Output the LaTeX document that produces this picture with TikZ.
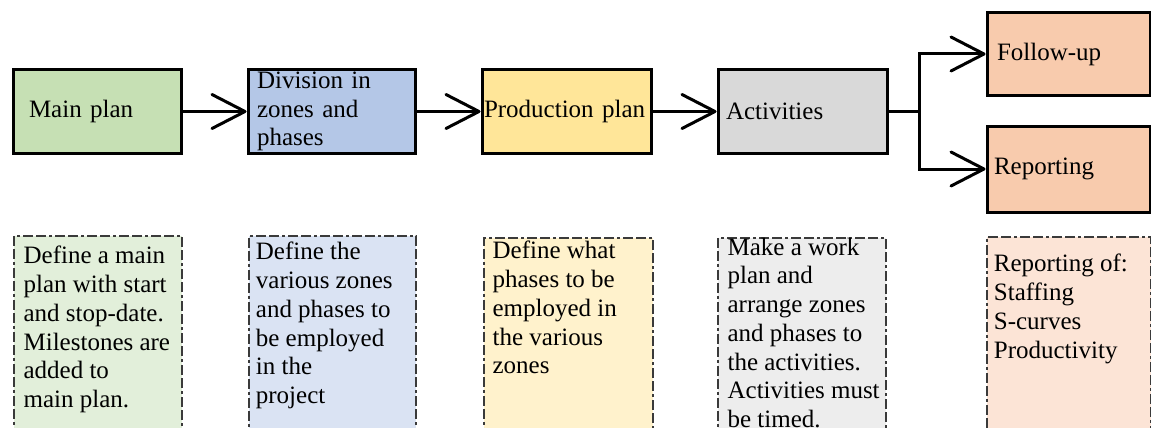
\documentclass[tikz,border=0pt]{standalone}
\usepackage{fontspec}
\setmainfont{Liberation Serif}
\usetikzlibrary{arrows.meta}
\definecolor{gTop}{HTML}{C6E0B4}
\definecolor{bTop}{HTML}{B4C7E7}
\definecolor{yTop}{HTML}{FFE699}
\definecolor{aTop}{HTML}{D9D9D9}
\definecolor{pTop}{HTML}{F8CBAD}
\definecolor{gBot}{HTML}{E2EFDA}
\definecolor{bBot}{HTML}{DAE3F3}
\definecolor{yBot}{HTML}{FFF2CC}
\definecolor{aBot}{HTML}{EDEDED}
\definecolor{pBot}{HTML}{FCE4D6}
\definecolor{dashgray}{HTML}{3A3A3A}
\newcommand{\boxtxt}[4]{\hspace*{#1pt}\parbox[t][240pt][t]{\dimexpr #3pt-#1pt\relax}{\raggedright\rule{0pt}{#2pt}#4}}
\tikzset{
  topbox/.style={draw=black, line width=3pt, inner ysep=0pt, align=left},
  botbox/.style={draw=dashgray, line width=1.8pt, dash pattern=on 10pt off 3pt on 10pt off 3pt on 3pt off 3pt, inner sep=0pt, anchor=north west},
  arr/.style={line width=3pt, -{Straight Barb[length=33pt,width=34pt,round]}},
  conn/.style={line width=3pt}
}
\begin{document}
\begin{tikzpicture}[x=1pt,y=-1pt,font={\fontsize{25pt}{28.7pt}\selectfont}]
\useasboundingbox (0,0) rectangle (1151,428);
\clip (0,0) rectangle (1151,428);
\fill[white] (0,0) rectangle (1151,428);

% top row
\node[topbox, fill=gTop, minimum width=168pt, minimum height=83pt, inner xsep=16pt, text width=136pt] (main) at (97,111.5) {Main plan};
\node[topbox, fill=bTop, minimum width=167pt, minimum height=83pt, inner xsep=9pt, text width=149pt] (div) at (331.5,111.5) {Division in\\zones and\\phases};
\node[topbox, fill=yTop, minimum width=169pt, minimum height=83pt, inner xsep=2pt, text width=165pt] (prod) at (566.5,111.5) {Production plan};
\node[topbox, fill=aTop, minimum width=169pt, minimum height=83pt, inner xsep=8pt, text width=153pt] (act) at (802.5,111.5) {Activities};
\node[topbox, fill=pTop, minimum width=163pt, minimum height=82pt, inner xsep=10pt, text width=143pt] (fol) at (1068.5,54) {Follow-up};
\node[topbox, fill=pTop, minimum width=163pt, minimum height=86pt, inner xsep=7pt, text width=149pt] (rep) at (1068.5,169) {Reporting};

% connectors
\draw[arr] (main.east) -- (div.west);
\draw[arr] (div.east) -- (prod.west);
\draw[arr] (prod.east) -- (act.west);
\coordinate (br) at (919,111.5);
\draw[conn] (act.east) -- (br);
\draw[arr] (br) |- (fol.west);
\draw[arr] (br) |- (rep.west);

% bottom row
\node[botbox, fill=gBot] (dmain) at (13,235) {\boxtxt{9.7}{28}{168}{Define a main\\plan with start\\and stop-date.\\Milestones are\\added to\\main plan.}};
\node[botbox, fill=bBot] (ddiv) at (248,235) {\boxtxt{7}{24}{167}{Define the\\various zones\\and phases to\\be employed\\in the\\project}};
\node[botbox, fill=yBot] (dprod) at (483,237) {\boxtxt{8.7}{21}{169}{Define what\\phases to be\\employed in\\the various\\zones}};
\node[botbox, fill=aBot] (dact) at (717,237) {\boxtxt{9.7}{15}{168}{Make a work\\plan and\\arrange zones\\and phases to\\the activities.\\Activities must\\be timed.}};
\node[botbox, fill=pBot] (drep) at (986,236) {\boxtxt{7}{35}{164}{Reporting of:\\Staffing\\S-curves\\Productivity}};
\end{tikzpicture}
\end{document}
